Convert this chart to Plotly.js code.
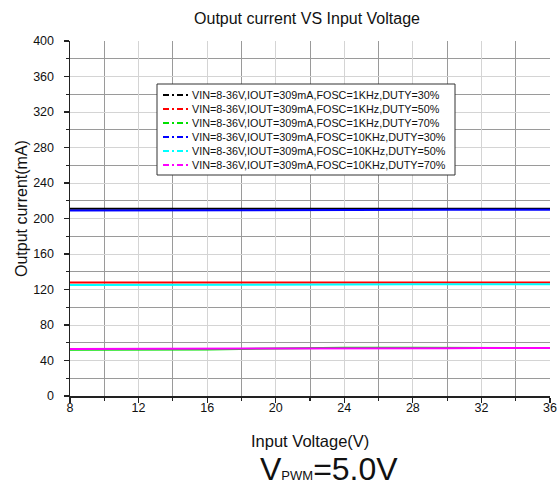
<!DOCTYPE html>
<html>
<head>
<meta charset="utf-8">
<script src="https://cdn.plot.ly/plotly-3.0.1.min.js"></script>
<style>html,body{margin:0;padding:0;background:#fff;}#chart{width:559px;height:491px;}</style>
</head>
<body>
<div id="chart"></div>
<script>
const vin = [8, 12, 16, 20, 24, 28, 30, 32, 36];
const seriesNames = [
  "VIN=8-36V,IOUT=309mA,FOSC=1KHz,DUTY=30%",
  "VIN=8-36V,IOUT=309mA,FOSC=1KHz,DUTY=50%",
  "VIN=8-36V,IOUT=309mA,FOSC=1KHz,DUTY=70%",
  "VIN=8-36V,IOUT=309mA,FOSC=10KHz,DUTY=30%",
  "VIN=8-36V,IOUT=309mA,FOSC=10KHz,DUTY=50%",
  "VIN=8-36V,IOUT=309mA,FOSC=10KHz,DUTY=70%"
];
const f1k_d30  = [211, 211, 211, 211, 211, 211, 211, 211, 211];
const f1k_d50  = [128, 128, 128, 128, 128, 128, 128, 128, 128];
const f1k_d70  = [52, 52, 52.5, 53.5, 54.5, 54.5, 54.3, 54, 54];
const f10k_d30 = [209, 209, 209, 209, 209.3, 209.6, 209.8, 210, 210];
const f10k_d50 = [125, 125, 125, 125.3, 125.6, 126, 126, 126, 126];
const f10k_d70 = [53, 53, 53, 53, 53, 53, 53.8, 54, 54];
const seriesValues = [f1k_d30, f1k_d50, f1k_d70, f10k_d30, f10k_d50, f10k_d70];
const colors = ["#000000", "#ff0000", "#00e000", "#0000ff", "#00ffff", "#ff00ff"];

const W = 559, H = 491;
const M = {l: 70, r: 9, t: 41, b: 95};
const PW = W - M.l - M.r, PH = H - M.t - M.b;
const px = v => (v - M.l) / PW;          // pixel x -> paper x
const py = v => (H - M.b - v) / PH;      // pixel y -> paper y

const traces = seriesValues.map((vals, i) => ({
  x: vin, y: vals, mode: "lines", name: seriesNames[i],
  line: {color: colors[i], width: 2}, hoverinfo: "skip"
}));

const font = {family: "Liberation Sans, Arial, sans-serif", color: "#111"};

// custom legend (box, dash-dot samples, labels)
const shapes = [{
  type: "rect", xref: "paper", yref: "paper", layer: "above",
  x0: px(157), x1: px(455), y0: py(175), y1: py(84),
  line: {color: "#333", width: 1}, fillcolor: "#ffffff"
}];
const annotations = [];
seriesNames.forEach((n, i) => {
  const rowY = 95 + 14 * i;
  shapes.push({type: "line", xref: "paper", yref: "paper", layer: "above",
    x0: px(163), x1: px(188), y0: py(rowY), y1: py(rowY),
    line: {color: colors[i], width: 2, dash: "6px,3px,2px,3px"}});
  annotations.push({xref: "paper", yref: "paper", x: px(190), y: py(rowY),
    xanchor: "left", yanchor: "middle", showarrow: false, text: n,
    font: Object.assign({size: 10.8}, font)});
});
annotations.push({
  xref: "paper", yref: "paper", x: px(21), y: py(209), xanchor: "center", yanchor: "middle",
  showarrow: false, textangle: -90, text: "Output current(mA)", font: Object.assign({size: 16}, font)
});
annotations.push({
  xref: "paper", yref: "paper", x: px(310), y: py(441), xanchor: "center", yanchor: "middle",
  showarrow: false, text: "Input Voltage(V)", font: Object.assign({size: 16.5}, font)
});
annotations.push({
  xref: "paper", yref: "paper", x: px(329), y: py(469), xanchor: "center", yanchor: "middle",
  showarrow: false, text: "V<span style='font-size:13px'>PWM</span>=5.0V", font: Object.assign({size: 32}, font)
});

const layout = {
  width: W, height: H,
  margin: M,
  paper_bgcolor: "#fff", plot_bgcolor: "#fff",
  font: Object.assign({size: 12}, font),
  title: {text: "Output current VS Input Voltage", font: Object.assign({size: 16}, font),
    x: px(307), xref: "paper", xanchor: "center", y: 1 - 18 / H, yref: "container", yanchor: "middle"},
  showlegend: false,
  xaxis: {
    range: [8, 36], dtick: 4, tick0: 8, showline: true, linecolor: "#222", linewidth: 1.5,
    ticks: "outside", ticklen: 5, tickcolor: "#222", tickwidth: 1.2,
    showgrid: true, gridcolor: "#d4d4d4", gridwidth: 1, zeroline: false,
    minor: {dtick: 2, ticks: "outside", ticklen: 3, tickcolor: "#222", showgrid: true, gridcolor: "#9a9a9a", gridwidth: 1},
    ticklabelstandoff: -6,
    tickfont: Object.assign({size: 12.5}, font)
  },
  yaxis: {
    range: [0, 400], dtick: 40, tick0: 0, showline: true, linecolor: "#222", linewidth: 1.5,
    ticks: "outside", ticklen: 5, tickcolor: "#222", tickwidth: 1.2,
    showgrid: true, gridcolor: "#d4d4d4", gridwidth: 1, zeroline: false,
    minor: {dtick: 20, ticks: "outside", ticklen: 3, tickcolor: "#222", showgrid: true, gridcolor: "#9a9a9a", gridwidth: 1},
    ticklabelstandoff: 7,
    tickfont: Object.assign({size: 12.5}, font)
  },
  xaxis2: {range: [8, 36], overlaying: "x", side: "top", dtick: 4, tick0: 8, showline: true, linecolor: "#222", linewidth: 1.5,
    ticks: "inside", ticklen: 5, tickcolor: "#222", showticklabels: false, showgrid: false, zeroline: false,
    minor: {dtick: 2, ticks: "inside", ticklen: 3, tickcolor: "#222"}},
  yaxis2: {range: [0, 400], overlaying: "y", side: "right", dtick: 40, tick0: 0, showline: true, linecolor: "#222", linewidth: 1.5,
    ticks: "inside", ticklen: 5, tickcolor: "#222", showticklabels: false, showgrid: false, zeroline: false,
    minor: {dtick: 20, ticks: "inside", ticklen: 3, tickcolor: "#222"}},
  shapes: shapes,
  annotations: annotations
};
Plotly.newPlot("chart", traces, layout, {displayModeBar: false, staticPlot: true});
</script>
</body>
</html>
